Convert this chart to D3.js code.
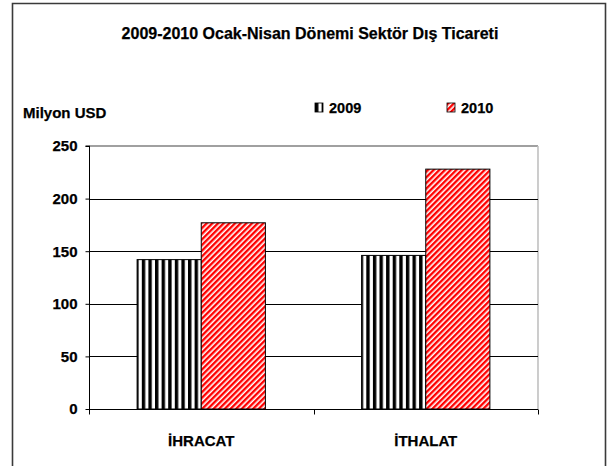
<!DOCTYPE html>
<html>
<head>
<meta charset="utf-8">
<script src="https://cdn.jsdelivr.net/npm/d3@7/dist/d3.min.js"></script>
<style>
  html, body { margin: 0; padding: 0; background: #fff; }
  svg { display: block; }
  text { font-family: "Liberation Sans", Arial, sans-serif; font-weight: bold; fill: #000; stroke: #000; stroke-width: 0.25px; }
</style>
</head>
<body>
<svg id="chart" width="611" height="466"></svg>
<script>
const title = "2009-2010 Ocak-Nisan Dönemi Sektör Dış Ticareti";
const yAxisTitle = "Milyon USD";
const categories = ["İHRACAT", "İTHALAT"];
const seriesNames = ["2009", "2010"];
const values2009 = [142, 146];
const values2010 = [177, 228];
const yTicks = [0, 50, 100, 150, 200, 250];

const seriesValues = [values2009, values2010];
const svg = d3.select("#chart");
const W = 611, H = 466;
const plot = { left: 89, right: 538, top: 146, bottom: 409 };

const defs = svg.append("defs");
// vertical black/white stripes
const p1 = defs.append("pattern").attr("id", "pat2009")
  .attr("patternUnits", "userSpaceOnUse").attr("width", 6.6).attr("height", 10);
p1.append("rect").attr("width", 6.6).attr("height", 10).attr("fill", "#fff");
p1.append("rect").attr("x", 0).attr("width", 3.4).attr("height", 10).attr("fill", "#000");
// red diagonal stripes
const p2 = defs.append("pattern").attr("id", "pat2010")
  .attr("patternUnits", "userSpaceOnUse").attr("width", 4).attr("height", 4)
  .attr("patternTransform", "rotate(45)");
p2.append("rect").attr("width", 4).attr("height", 4).attr("fill", "#fff");
p2.append("rect").attr("x", 0).attr("width", 2.4).attr("height", 4).attr("fill", "#ff0000");

const fills = ["url(#pat2009)", "url(#pat2010)"];

// outer frame
svg.append("path")
  .attr("d", `M12.5,${H + 2} L12.5,3.5 L605.5,3.5 L605.5,${H + 2}`)
  .attr("fill", "none").attr("stroke", "#3a3a3a").attr("stroke-width", 1.6);

// title
svg.append("text").attr("x", 310).attr("y", 39).attr("text-anchor", "middle")
  .style("font-size", "16px").text(title);

// scales
const y = d3.scaleLinear().domain([0, 250]).range([plot.bottom, plot.top]);
const x0 = d3.scaleBand().domain(categories).range([plot.left, plot.right]).paddingInner(0).paddingOuter(0);
const x1 = d3.scaleBand().domain(seriesNames).range([0, x0.bandwidth()]).paddingInner(0).paddingOuter(0.75);

// plot border (top gray, right light gray)
svg.append("line").attr("x1", plot.left).attr("x2", plot.right).attr("y1", plot.top).attr("y2", plot.top)
  .attr("stroke", "#808080").attr("stroke-width", 1.6);
svg.append("line").attr("x1", plot.right).attr("x2", plot.right).attr("y1", plot.top).attr("y2", plot.bottom)
  .attr("stroke", "#c0c0c0").attr("stroke-width", 1.6);

// gridlines
svg.append("g").selectAll("line").data(yTicks.filter(t => t > 0 && t < 250)).join("line")
  .attr("x1", plot.left).attr("x2", plot.right)
  .attr("y1", d => Math.round(y(d)) + 0.5).attr("y2", d => Math.round(y(d)) + 0.5)
  .attr("stroke", "#000").attr("stroke-width", 1);

// bars
const groups = svg.append("g").selectAll("g").data(categories).join("g")
  .attr("transform", d => `translate(${x0(d)},0)`);
groups.selectAll("rect").data((c, ci) => seriesNames.map((s, si) => ({ s, si, v: seriesValues[si][ci] }))).join("rect")
  .attr("x", d => x1(d.s)).attr("width", x1.bandwidth())
  .attr("y", d => y(d.v)).attr("height", d => y(0) - y(d.v))
  .attr("fill", d => fills[d.si]).attr("stroke", "#000").attr("stroke-width", 1);

// y axis
const yAxis = d3.axisLeft(y).tickValues(yTicks).tickSize(4).tickPadding(8);
const gy = svg.append("g").attr("transform", `translate(${plot.left + 0.5},0)`).call(yAxis);
gy.select(".domain").attr("d", `M-4,${plot.top}H0V${plot.bottom + 5}`).attr("stroke", "#000");
gy.selectAll(".tick line").attr("stroke", "#000");
gy.selectAll(".tick text").style("font-size", "15px").style("font-family", "Liberation Sans, Arial, sans-serif")
  .style("font-weight", "bold").attr("fill", "#000");

// x axis
const gx = svg.append("g").attr("transform", `translate(0,${plot.bottom + 0.5})`);
gx.append("line").attr("x1", plot.left).attr("x2", plot.right).attr("stroke", "#000");
const bounds = [plot.left, x0(categories[1]), plot.right];
gx.selectAll("line.tk").data(bounds).join("line").attr("class", "tk")
  .attr("x1", d => Math.round(d) + 0.5).attr("x2", d => Math.round(d) + 0.5).attr("y1", 0).attr("y2", 5)
  .attr("stroke", "#000");
gx.selectAll("text").data(categories).join("text")
  .attr("x", d => x0(d) + x0.bandwidth() / 2).attr("y", 36).attr("text-anchor", "middle")
  .style("font-size", "15px").text(d => d);

// y axis title
svg.append("text").attr("x", 23).attr("y", 118).style("font-size", "15px").text(yAxisTitle);

// legend
const legendX = [315, 447];
const leg = svg.append("g").selectAll("g").data(seriesNames).join("g")
  .attr("transform", (d, i) => `translate(${legendX[i]},103)`);
leg.append("rect").attr("width", 8).attr("height", 9).attr("fill", (d, i) => fills[i])
  .attr("stroke", "#000").attr("stroke-width", 0.8);
leg.append("text").attr("x", 14).attr("y", 10).style("font-size", "14.5px").text(d => d);
</script>
</body>
</html>
